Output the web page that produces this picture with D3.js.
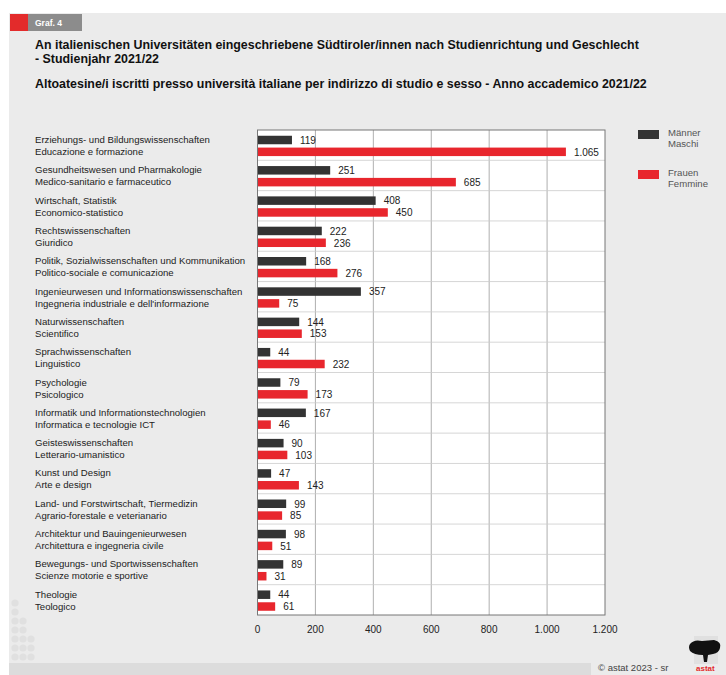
<!DOCTYPE html>
<html>
<head>
<meta charset="utf-8">
<script src="https://cdn.jsdelivr.net/npm/d3@7"></script>
<style>
  body { margin: 0; background: #fff; }
  svg text { font-family: "Liberation Sans", Arial, sans-serif; fill: #222; }
</style>
</head>
<body>
<svg id="chart" width="726" height="675"></svg>
<script>
const categoriesDe = [
  "Erziehungs- und Bildungswissenschaften",
  "Gesundheitswesen und Pharmakologie",
  "Wirtschaft, Statistik",
  "Rechtswissenschaften",
  "Politik, Sozialwissenschaften und Kommunikation",
  "Ingenieurwesen und Informationswissenschaften",
  "Naturwissenschaften",
  "Sprachwissenschaften",
  "Psychologie",
  "Informatik und Informationstechnologien",
  "Geisteswissenschaften",
  "Kunst und Design",
  "Land- und Forstwirtschaft, Tiermedizin",
  "Architektur und Bauingenieurwesen",
  "Bewegungs- und Sportwissenschaften",
  "Theologie"
];
const categoriesIt = [
  "Educazione e formazione",
  "Medico-sanitario e farmaceutico",
  "Economico-statistico",
  "Giuridico",
  "Politico-sociale e comunicazione",
  "Ingegneria industriale e dell'informazione",
  "Scientifico",
  "Linguistico",
  "Psicologico",
  "Informatica e tecnologie ICT",
  "Letterario-umanistico",
  "Arte e design",
  "Agrario-forestale e veterianario",
  "Architettura e ingegneria civile",
  "Scienze motorie e sportive",
  "Teologico"
];
const maleValues = [119, 251, 408, 222, 168, 357, 144, 44, 79, 167, 90, 47, 99, 98, 89, 44];
const femaleValues = [1065, 685, 450, 236, 276, 75, 153, 232, 173, 46, 103, 143, 85, 51, 31, 61];
const xTicks = [0, 200, 400, 600, 800, 1000, 1200];
const seriesNames = [["Männer", "Maschi"], ["Frauen", "Femmine"]];
const seriesColors = ["#333333", "#e8262d"];

const fmt = v => d3.format(",")(v).replace(/,/g, ".");

const svg = d3.select("#chart");

// page background
svg.append("rect").attr("x", 9).attr("y", 13).attr("width", 717).attr("height", 662).attr("fill", "#ebebeb");
svg.append("rect").attr("x", 9).attr("y", 663).attr("width", 582).attr("height", 12).attr("fill", "#dcdcdc");

// header tag
svg.append("rect").attr("x", 10).attr("y", 14).attr("width", 18).attr("height", 17).attr("fill", "#e32b2b");
svg.append("rect").attr("x", 28).attr("y", 14).attr("width", 54).attr("height", 17).attr("fill", "#8c8c8c");
svg.append("text").attr("x", 35).attr("y", 26).text("Graf. 4")
  .style("font-size", "8.5px").style("font-weight", "bold").style("fill", "#fff");

// titles
const titles = [
  ["An italienischen Universitäten eingeschriebene Südtiroler/innen nach Studienrichtung und Geschlecht", 49],
  ["- Studienjahr 2021/22", 63],
  ["Altoatesine/i iscritti presso università italiane per indirizzo di studio e sesso - Anno accademico 2021/22", 88]
];
svg.selectAll(".title").data(titles).join("text")
  .attr("class", "title")
  .attr("x", 35).attr("y", d => d[1])
  .text(d => d[0])
  .style("font-size", "12.4px").style("font-weight", "bold").style("fill", "#111");

// scales
const x = d3.scaleLinear().domain([0, 1200]).range([257.5, 605]);
const y = d3.scaleBand().domain(d3.range(categoriesDe.length)).range([130, 615]);

// plot area
svg.append("rect").attr("x", x(0)).attr("y", 130).attr("width", x(1200) - x(0)).attr("height", 485)
  .attr("fill", "#fff");

svg.selectAll(".grid").data(xTicks.slice(1, -1)).join("line")
  .attr("class", "grid")
  .attr("x1", d => x(d)).attr("x2", d => x(d))
  .attr("y1", 130).attr("y2", 615)
  .attr("stroke", "#9a9a9a").attr("stroke-width", 0.8);

svg.selectAll(".sep").data(d3.range(1, categoriesDe.length)).join("line")
  .attr("class", "sep")
  .attr("x1", x(0)).attr("x2", x(1200))
  .attr("y1", d => y(d)).attr("y2", d => y(d))
  .attr("stroke", "#cccccc").attr("stroke-width", 0.8);

// bars
const bh = y.bandwidth();
const rows = d3.range(categoriesDe.length);

const drawSeries = (vals, color, off, cls) => {
  svg.selectAll(`.${cls}`).data(rows).join("rect")
    .attr("class", cls)
    .attr("x", x(0))
    .attr("y", i => y(i) + off)
    .attr("width", i => x(vals[i]) - x(0))
    .attr("height", 8.5)
    .attr("fill", color);
  svg.selectAll(`.${cls}-lbl`).data(rows).join("text")
    .attr("class", `${cls}-lbl`)
    .attr("x", i => x(vals[i]) + 8)
    .attr("y", i => y(i) + off + 8)
    .text(i => fmt(vals[i]))
    .style("font-size", "10px");
};
drawSeries(maleValues, seriesColors[0], bh * 0.19, "male");
drawSeries(femaleValues, seriesColors[1], bh * 0.58, "female");

svg.append("rect").attr("x", x(0)).attr("y", 130).attr("width", x(1200) - x(0)).attr("height", 485)
  .attr("fill", "none").attr("stroke", "#777").attr("stroke-width", 1);

// category labels
const lbl = svg.selectAll(".cat").data(rows).join("text")
  .attr("class", "cat")
  .attr("x", 35)
  .style("font-size", "9.6px");
lbl.append("tspan").attr("x", 35).attr("y", i => y(i) + 13).text(i => categoriesDe[i]);
lbl.append("tspan").attr("x", 35).attr("y", i => y(i) + 25).text(i => categoriesIt[i]);

// x axis labels
svg.selectAll(".tick-lbl").data(xTicks).join("text")
  .attr("class", "tick-lbl")
  .attr("x", d => x(d)).attr("y", 633)
  .attr("text-anchor", "middle")
  .text(d => fmt(d))
  .style("font-size", "10px");

// legend
const leg = svg.selectAll(".leg").data(seriesNames).join("g")
  .attr("class", "leg")
  .attr("transform", (d, i) => `translate(638,${130 + i * 40})`);
leg.append("rect").attr("width", 21).attr("height", 9).attr("y", 0)
  .attr("fill", (d, i) => seriesColors[i]);
leg.append("text").attr("x", 30).attr("y", 6).text(d => d[0]).style("font-size", "9.6px").style("fill", "#555");
leg.append("text").attr("x", 30).attr("y", 17).text(d => d[1]).style("font-size", "9.6px").style("fill", "#555");

// decorative dot pattern bottom-left
const dotRows = [1, 1, 2, 2, 3, 3, 3];
dotRows.forEach((n, r) => {
  d3.range(n).forEach(c => {
    svg.append("circle").attr("cx", 15 + c * 8).attr("cy", 603 + r * 9).attr("r", 3.6)
      .attr("fill", "#e0e0e0");
  });
});

// footer
svg.append("text").attr("x", 598).attr("y", 671).text("© astat 2023 - sr")
  .style("font-size", "9.5px").style("fill", "#444");

// logo
const logo = svg.append("g").attr("transform", "translate(688,636)");
logo.append("rect").attr("x", 6).attr("y", 0).attr("width", 24).attr("height", 28).attr("fill", "#e0e0e0");
logo.append("path")
  .attr("d", "M2,8 Q6,3 14,5 L26,4 Q34,6 32,12 Q31,17 25,18 L20,19 L19,26 L16,26 L15,19 Q6,19 2,15 Q0,11 2,8 Z")
  .attr("fill", "#111");
logo.append("text").attr("x", 8).attr("y", 35).text("astat")
  .style("font-size", "8px").style("font-weight", "bold").style("fill", "#e32b2b");
</script>
</body>
</html>
